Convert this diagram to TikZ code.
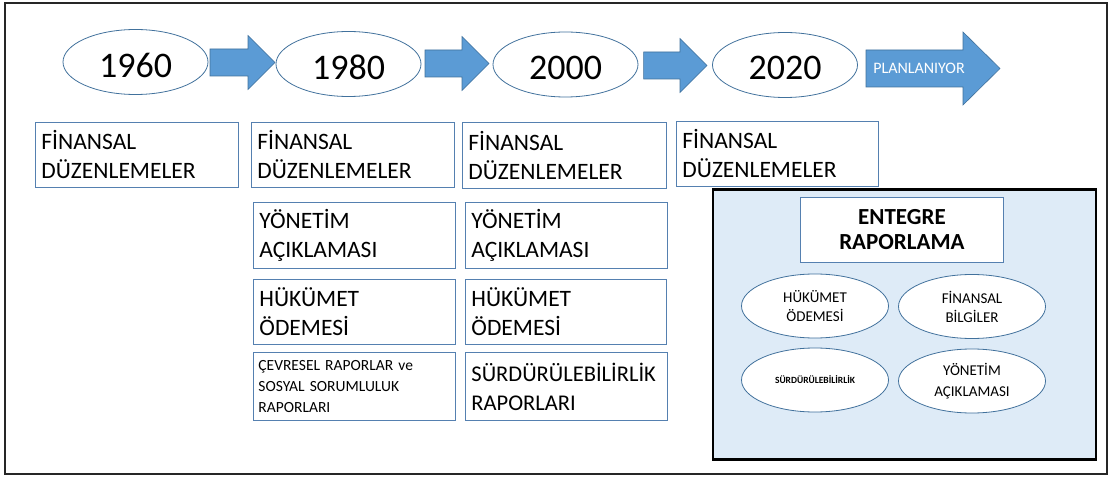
\documentclass[tikz,border=0pt]{standalone}
\usepackage{fontspec}
\setmainfont{Carlito}
\usetikzlibrary{shapes.geometric}
\definecolor{arrowblue}{HTML}{5B9BD5}
\definecolor{edgeblue}{HTML}{41719C}
\definecolor{boxedge}{HTML}{5580B0}
\definecolor{panelfill}{HTML}{DEEBF7}
\newcommand\blockarr[6]{%
  \filldraw[arrowshape] (#1,{#4-#5}) -- (#2,{#4-#5}) -- (#2,{#4-#6}) -- (#3,#4)
    -- (#2,{#4+#6}) -- (#2,{#4+#5}) -- (#1,{#4+#5}) -- cycle;}
\newcommand\yeartext[1]{\raisebox{-3pt}[\height][\depth]{#1}}
\begin{document}
\begin{tikzpicture}[x=1pt,y=-1pt,
  arrowshape/.style={fill=arrowblue,draw=edgeblue,line width=0.6pt},
  year/.style={ellipse,draw=edgeblue,line width=0.8pt,fill=white,
    minimum width=145pt,minimum height=65pt,inner sep=0pt,
    font=\fontsize{36}{40}\selectfont},
  infobox/.style={draw=boxedge,line width=0.9pt,fill=white,anchor=north west,
    inner xsep=6pt,inner ysep=0pt,align=left,font=\fontsize{23.5}{29}\selectfont},
  smallbox/.style={infobox,inner xsep=5pt,font=\fontsize{15.5}{21}\selectfont},
  oval/.style={ellipse,draw=edgeblue,line width=0.8pt,fill=white,
    minimum width=147pt,minimum height=64pt,inner sep=0pt,align=center,
    font=\fontsize{15}{19}\selectfont},
]
\useasboundingbox (0,0) rectangle (1110,478);
\draw[line width=2pt,black!85] (5,3) rectangle (1107,474);

% timeline
\node[year] (y1960) at (135.5,62) {\yeartext{1960}};
\node[year] (y1980) at (348.5,64) {\yeartext{1980}};
\node[year] (y2000) at (565.5,64.5) {\yeartext{2000}};
\node[year] (y2020) at (785,65) {\yeartext{2020}};

\blockarr{210}{248}{275}{62.5}{13.5}{27}
\blockarr{425}{462}{489}{63.5}{13.5}{27}
\blockarr{643.6}{680}{707}{65.5}{13.5}{27}
\blockarr{866}{963}{1000}{68.5}{18.5}{36.5}
\node[text=white,font=\fontsize{16}{18}\selectfont] (plan) at (919,68.5) {PLANLANIYOR};

% row 1
\node[infobox,minimum width=203pt,minimum height=65pt,text width=191pt] (f1) at (35,122) {FİNANSAL\\DÜZENLEMELER};
\node[infobox,minimum width=203pt,minimum height=65pt,text width=191pt] (f2) at (251,122) {FİNANSAL\\DÜZENLEMELER};
\node[infobox,minimum width=204pt,minimum height=66pt,text width=192pt] (f3) at (462,122) {FİNANSAL\\DÜZENLEMELER};
\node[infobox,minimum width=202pt,minimum height=65pt,text width=190pt] (f4) at (676,121) {FİNANSAL\\DÜZENLEMELER};

% row 2
\node[infobox,minimum width=202pt,minimum height=66pt,text width=190pt] (y2) at (253,202) {YÖNETİM\\AÇIKLAMASI};
\node[infobox,minimum width=202pt,minimum height=66pt,text width=190pt] (y3) at (465,202) {YÖNETİM\\AÇIKLAMASI};

% row 3
\node[infobox,minimum width=202pt,minimum height=65pt,text width=190pt] (h2) at (253,279) {HÜKÜMET\\ÖDEMESİ};
\node[infobox,minimum width=201pt,minimum height=65pt,text width=189pt] (h3) at (465,279) {HÜKÜMET\\ÖDEMESİ};

% row 4
\node[smallbox,minimum width=202pt,minimum height=68pt,text width=192pt] (c2) at (253,352) {ÇEVRESEL RAPORLAR ve\\SOSYAL SORUMLULUK\\RAPORLARI};
\node[infobox,font=\fontsize{22.5}{29}\selectfont,minimum width=202pt,minimum height=68pt,text width=190pt] (s3) at (465,352) {SÜRDÜRÜLEBİLİRLİK\\RAPORLARI};

% integrated reporting panel
\node[draw=black,line width=2.5pt,fill=panelfill,anchor=north west,inner sep=0pt,
  minimum width=383pt,minimum height=270pt] (panel) at (711.7,188.3) {};
\node[draw=boxedge,line width=0.9pt,fill=white,anchor=north west,inner sep=0pt,
  minimum width=203pt,minimum height=65pt,text width=203pt,align=center,
  font=\bfseries\fontsize{23}{25}\selectfont] (ir) at (800,197) {ENTEGRE\\RAPORLAMA};

\node[oval] (o1) at (815,306) {HÜKÜMET\\ÖDEMESİ};
\node[oval] (o2) at (972,306.5) {FİNANSAL\\BİLGİLER};
\node[oval,font=\bfseries\fontsize{9.5}{11}\selectfont] (o3) at (815,380) {SÜRDÜRÜLEBİLİRLİK};
\node[oval,font=\fontsize{15}{21}\selectfont] (o4) at (972,381) {YÖNETİM\\AÇIKLAMASI};
\end{tikzpicture}
\end{document}
